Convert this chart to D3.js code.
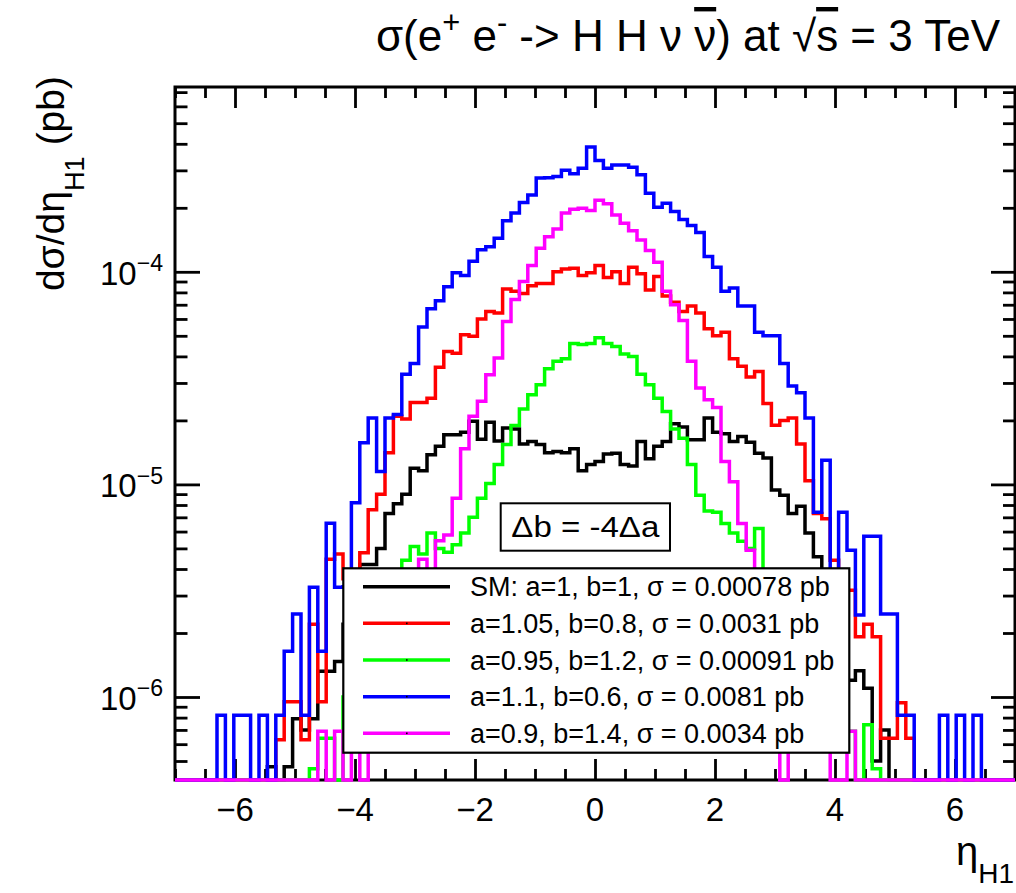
<!DOCTYPE html>
<html>
<head>
<meta charset="utf-8">
<script src="https://cdn.jsdelivr.net/npm/d3@7"></script>
<style>
  body { margin: 0; background: #fff; }
  svg { display: block; font-family: "Liberation Sans", Arial, Helvetica, sans-serif; }
  text { white-space: pre; }
</style>
</head>
<body>
<svg id="chart" width="1016" height="893"></svg>
<script>
// histogram binning: 100 bins over eta in [-7, 7]
const nBins = 100;
const etaRange = [-7, 7];

// bin contents (pb per unit eta); 0 = empty bin
const hSM = [
  0, 0, 0, 0, 0, 0, 0, 0, 0, 0,
  0, 4.7e-7, 0, 4.7e-7, 7.9e-7, 7.0e-7, 7.9e-7, 1.32e-6, 1.32e-6, 1.47e-6,
  2.2e-6, 3.0e-6, 4.2e-6, 4.2e-6, 5.0e-6, 7.3e-6, 8.1e-6, 9.0e-6, 1.19e-5, 1.16e-5,
  1.38e-5, 1.51e-5, 1.71e-5, 1.71e-5, 1.76e-5, 1.98e-5, 1.63e-5, 1.96e-5, 1.6e-5, 1.84e-5,
  1.82e-5, 1.55e-5, 1.59e-5, 1.54e-5, 1.41e-5, 1.43e-5, 1.41e-5, 1.47e-5, 1.16e-5, 1.24e-5,
  1.28e-5, 1.39e-5, 1.4e-5, 1.24e-5, 1.22e-5, 1.59e-5, 1.32e-5, 1.51e-5, 1.59e-5, 1.93e-5,
  1.86e-5, 1.62e-5, 1.62e-5, 2.05e-5, 1.76e-5, 1.73e-5, 1.59e-5, 1.68e-5, 1.58e-5, 1.4e-5,
  1.33e-5, 9.4e-6, 8.9e-6, 7.3e-6, 7.9e-6, 5.9e-6, 4.57e-6, 3.4e-6, 2.6e-6, 2.0e-6,
  1.2e-6, 1.33e-6, 1.1e-6, 5.0e-7, 7.0e-7, 0, 0, 0, 0, 0,
  0, 0, 0, 0, 0, 0, 0, 0, 0, 0
];
const hA105 = [
  0, 0, 0, 0, 0, 0, 0, 0, 0, 0,
  0, 0, 6.3e-7, 9.5e-7, 9.5e-7, 6.3e-7, 2.2e-6, 9.5e-7, 4.44e-6, 4.7e-6,
  3.6e-6, 3.9e-6, 4.77e-6, 7.6e-6, 9.0e-6, 1.41e-5, 2.09e-5, 2.03e-5, 2.43e-5, 2.43e-5,
  2.54e-5, 3.56e-5, 4.22e-5, 4.14e-5, 5.06e-5, 4.97e-5, 6.0e-5, 6.5e-5, 6.4e-5, 8.3e-5,
  8.1e-5, 7.9e-5, 8.6e-5, 8.8e-5, 8.8e-5, 1.0e-4, 1.03e-4, 1.04e-4, 9.6e-5, 9.9e-5,
  1.07e-4, 9.4e-5, 1.0e-4, 8.8e-5, 1.05e-4, 9.8e-5, 8.2e-5, 9.5e-5, 7.7e-5, 7.2e-5,
  6.5e-5, 6.9e-5, 6.4e-5, 5.4e-5, 5.0e-5, 5.2e-5, 3.9e-5, 3.6e-5, 3.2e-5, 3.4e-5,
  2.4e-5, 1.9e-5, 2.0e-5, 2.05e-5, 1.55e-5, 1.04e-5, 7.3e-6, 6.9e-6, 4.4e-6, 3.5e-6,
  3.18e-6, 1.92e-6, 2.2e-6, 1.92e-6, 6.4e-7, 6.4e-7, 9.4e-7, 6.4e-7, 0, 0,
  0, 0, 0, 0, 0, 0, 0, 0, 0, 0
];
const hA095 = [
  0, 0, 0, 0, 0, 0, 0, 0, 0, 0,
  0, 0, 0, 0, 0, 0, 4.6e-7, 6.4e-7, 6.4e-7, 0,
  1.0e-6, 1.3e-6, 1.7e-6, 2.2e-6, 2.7e-6, 3.1e-6, 3.6e-6, 4.4e-6, 5.1e-6, 4.7e-6,
  5.9e-6, 5.0e-6, 4.8e-6, 5.2e-6, 5.9e-6, 7.0e-6, 8.6e-6, 1.01e-5, 1.24e-5, 1.54e-5,
  1.89e-5, 2.26e-5, 2.64e-5, 2.94e-5, 3.5e-5, 3.8e-5, 3.9e-5, 4.6e-5, 4.55e-5, 4.6e-5,
  4.9e-5, 4.6e-5, 4.45e-5, 4.1e-5, 4.0e-5, 3.3e-5, 2.94e-5, 2.54e-5, 2.2e-5, 1.82e-5,
  1.65e-5, 1.24e-5, 8.9e-6, 7.5e-6, 7.4e-6, 6.55e-6, 5.9e-6, 5.4e-6, 5.0e-6, 6.2e-6,
  3.8e-6, 3.2e-6, 2.7e-6, 2.3e-6, 1.9e-6, 1.5e-6, 1.2e-6, 1.0e-6, 9.0e-7, 8.4e-7,
  6.9e-7, 0, 7.4e-7, 4.6e-7, 0, 0, 0, 0, 0, 0,
  0, 0, 0, 0, 0, 0, 0, 0, 0, 0
];
const hA110 = [
  0, 0, 0, 0, 0, 8.2e-7, 0, 8.2e-7, 8.2e-7, 0,
  8.2e-7, 0, 8.2e-7, 1.64e-6, 2.46e-6, 8.2e-7, 3.28e-6, 1.64e-6, 6.56e-6, 3.28e-6,
  3.3e-6, 8.2e-6, 1.57e-5, 2.05e-5, 1.15e-5, 2.05e-5, 2.13e-5, 3.3e-5, 3.7e-5, 5.5e-5,
  6.7e-5, 7.3e-5, 8.5e-5, 9.9e-5, 9.6e-5, 1.12e-4, 1.27e-4, 1.31e-4, 1.44e-4, 1.74e-4,
  1.89e-4, 2.12e-4, 2.30e-4, 2.76e-4, 2.77e-4, 2.81e-4, 3.0e-4, 2.89e-4, 3.07e-4, 3.86e-4,
  3.34e-4, 3.07e-4, 3.18e-4, 3.18e-4, 3.10e-4, 2.86e-4, 2.34e-4, 2.01e-4, 2.10e-4, 1.92e-4,
  1.76e-4, 1.65e-4, 1.53e-4, 1.18e-4, 1.05e-4, 8.1e-5, 8.4e-5, 6.9e-5, 6.9e-5, 5.2e-5,
  5.0e-5, 5.0e-5, 3.7e-5, 2.9e-5, 2.7e-5, 2.05e-5, 7.4e-6, 1.3e-5, 3.3e-6, 7.4e-6,
  4.9e-6, 2.43e-6, 5.7e-6, 5.7e-6, 2.46e-6, 2.46e-6, 8.2e-7, 8.2e-7, 0, 0,
  0, 8.2e-7, 0, 8.2e-7, 0, 8.2e-7, 0, 0, 0, 0
];
const hA090 = [
  0, 0, 0, 0, 0, 0, 0, 0, 0, 0,
  0, 0, 0, 0, 0, 0, 0, 6.9e-7, 0, 6.9e-7,
  0, 9e-7, 0, 1.2e-6, 1.4e-6, 1.9e-6, 2.3e-6, 2.8e-6, 3.4e-6, 4.44e-6,
  3.6e-6, 5.43e-6, 5.78e-6, 8.6e-6, 1.47e-5, 2.09e-5, 2.46e-5, 3.28e-5, 3.93e-5, 5.84e-5,
  7.4e-5, 9.0e-5, 1.07e-4, 1.29e-4, 1.46e-4, 1.59e-4, 1.89e-4, 1.97e-4, 1.99e-4, 1.94e-4,
  2.17e-4, 2.09e-4, 1.85e-4, 1.69e-4, 1.56e-4, 1.41e-4, 1.26e-4, 1.11e-4, 8.1e-5, 7.0e-5,
  5.9e-5, 3.8e-5, 2.84e-5, 2.5e-5, 2.3e-5, 1.28e-5, 1.03e-5, 6.55e-6, 4.9e-6, 3.5e-6,
  2.5e-6, 1.5e-6, 0, 1.2e-6, 1.0e-6, 9e-7, 8e-7, 7e-7, 0, 0,
  6.9e-7, 0, 0, 0, 0, 0, 0, 0, 0, 0,
  0, 0, 0, 0, 0, 0, 0, 0, 0, 0
];

// legend entries, in drawing order
const seriesNames = [
  "SM: a=1, b=1, σ = 0.00078 pb",
  "a=1.05, b=0.8, σ = 0.0031 pb",
  "a=0.95, b=1.2, σ = 0.00091 pb",
  "a=1.1, b=0.6, σ = 0.0081 pb",
  "a=0.9, b=1.4, σ = 0.0034 pb"
];
const seriesColors = ["#000000", "#ff0000", "#00ff00", "#0000ff", "#ff00ff"];
const seriesData = [hSM, hA105, hA095, hA110, hA090];

// axis ticks
const xTickValues = [-6, -4, -2, 0, 2, 4, 6];
const yDecades = [1e-6, 1e-5, 1e-4];
const yDecadeExp = ["−6", "−5", "−4"];
const yRange = [4.07e-7, 7.4e-4];

const svg = d3.select("#chart");
const frame = { left: 175, right: 1015, top: 87, bottom: 780 };

const x = d3.scaleLinear().domain(etaRange).range([frame.left, frame.right]);
const y = d3.scaleLog().domain(yRange).range([frame.bottom, frame.top]);

const binWidth = (etaRange[1] - etaRange[0]) / nBins;
const edges = d3.range(nBins + 1).map((i) => etaRange[0] + i * binWidth);

// rich text helper: parts with optional sup / sub / bar
function richText(sel, parts, size, subShift = 0.5) {
  let shift = 0;
  parts.forEach((p) => {
    const target = p.sup ? -0.42 * size : p.sub ? subShift * size : 0;
    const ts = sel.append("tspan").attr("dy", target - shift).text(p.t);
    if (p.sup || p.sub) ts.attr("font-size", size * 0.7);
    if (p.bar) ts.style("text-decoration", "overline");
    shift = target;
  });
}

// ---- axes (ticks inside the frame, on all four sides) ----
const xMinor = x.ticks(28).filter((d) => xTickValues.indexOf(d) < 0);
const yMinor = y.ticks().filter((d) => yDecades.indexOf(d) < 0);

const tickG = svg.append("g");

tickG.append("g")
  .attr("transform", `translate(0,${frame.bottom})`)
  .call(d3.axisBottom(x).tickValues(xTickValues).tickSize(-21).tickFormat(""));
tickG.append("g")
  .attr("transform", `translate(0,${frame.bottom})`)
  .call(d3.axisBottom(x).tickValues(xMinor).tickSize(-11).tickFormat(""));
tickG.append("g")
  .attr("transform", `translate(0,${frame.top})`)
  .call(d3.axisTop(x).tickValues(xTickValues).tickSize(-21).tickFormat(""));
tickG.append("g")
  .attr("transform", `translate(0,${frame.top})`)
  .call(d3.axisTop(x).tickValues(xMinor).tickSize(-11).tickFormat(""));
tickG.append("g")
  .attr("transform", `translate(${frame.left},0)`)
  .call(d3.axisLeft(y).tickValues(yDecades).tickSize(-25).tickFormat(""));
tickG.append("g")
  .attr("transform", `translate(${frame.left},0)`)
  .call(d3.axisLeft(y).tickValues(yMinor).tickSize(-12.5).tickFormat(""));
tickG.append("g")
  .attr("transform", `translate(${frame.right},0)`)
  .call(d3.axisRight(y).tickValues(yDecades).tickSize(-24).tickFormat(""));
tickG.append("g")
  .attr("transform", `translate(${frame.right},0)`)
  .call(d3.axisRight(y).tickValues(yMinor).tickSize(-12).tickFormat(""));
tickG.selectAll(".domain").remove();
tickG.selectAll(".tick line").attr("stroke", "#000").attr("stroke-width", 2.8);

// frame
svg.append("rect")
  .attr("x", frame.left).attr("y", frame.top)
  .attr("width", frame.right - frame.left).attr("height", frame.bottom - frame.top)
  .attr("fill", "none").attr("stroke", "#000").attr("stroke-width", 3);

// tick labels
svg.append("g").selectAll("text")
  .data(xTickValues)
  .join("text")
  .attr("x", (d) => x(d))
  .attr("y", 821)
  .attr("text-anchor", "middle")
  .attr("font-size", 33)
  .text((d) => (d < 0 ? "−" + Math.abs(d) : d));

svg.append("g").selectAll("text")
  .data(yDecades)
  .join("text")
  .attr("x", 163)
  .attr("y", (d) => y(d) + 13)
  .attr("text-anchor", "end")
  .attr("font-size", 33)
  .each(function (d, i) {
    richText(d3.select(this), [{ t: "10" }, { t: yDecadeExp[i], sup: true }], 33);
  });

// ---- histograms ----
svg.append("clipPath").attr("id", "plotclip")
  .append("rect")
  .attr("x", frame.left - 2).attr("y", frame.top - 2)
  .attr("width", frame.right - frame.left + 4).attr("height", frame.bottom - frame.top + 4);

const step = d3.line()
  .x((d) => x(d[0]))
  .y((d) => y(Math.max(d[1], yRange[0])))
  .curve(d3.curveStepAfter);

function histPoints(vals) {
  const pts = vals.map((v, i) => [edges[i], v]);
  pts.push([edges[nBins], vals[nBins - 1]]);
  return pts;
}

svg.append("g")
  .attr("clip-path", "url(#plotclip)")
  .selectAll("path")
  .data(seriesData)
  .join("path")
  .attr("d", (d) => step(histPoints(d)))
  .attr("fill", "none")
  .attr("stroke", (d, i) => seriesColors[i])
  .attr("stroke-width", 3.5)
  .attr("stroke-linejoin", "miter");

// ---- annotation box ----
const annot = svg.append("g");
annot.append("rect")
  .attr("x", 500.7).attr("y", 503.3).attr("width", 169.3).attr("height", 47.4)
  .attr("fill", "#fff").attr("stroke", "#000").attr("stroke-width", 2);
annot.append("text")
  .attr("x", 585.3).attr("y", 537)
  .attr("text-anchor", "middle")
  .attr("font-size", 30)
  .attr("textLength", 148)
  .attr("lengthAdjust", "spacingAndGlyphs")
  .text("Δb = -4Δa");

// ---- legend ----
const legend = svg.append("g");
legend.append("rect")
  .attr("x", 343.3).attr("y", 568.3).attr("width", 506).attr("height", 184.4)
  .attr("fill", "#fff").attr("stroke", "#000").attr("stroke-width", 2.2);

const rows = legend.selectAll("g.row")
  .data(seriesNames)
  .join("g")
  .attr("class", "row")
  .attr("transform", (d, i) => `translate(0,${586.7 + i * 36.65})`);

rows.append("line")
  .attr("x1", 363).attr("x2", 450)
  .attr("stroke", (d, i) => seriesColors[i])
  .attr("stroke-width", 3.5);
rows.append("rect")
  .attr("x", 406).attr("y", -0.8).attr("width", 1.6).attr("height", 1.6)
  .attr("fill", "#000");
rows.append("text")
  .attr("x", 470).attr("y", 9.5)
  .attr("font-size", 27)
  .text((d) => d);

// ---- titles ----
const title = svg.append("text")
  .attr("x", 1000).attr("y", 51)
  .attr("text-anchor", "end")
  .attr("font-size", 44);
richText(title, [
  { t: "σ(e" }, { t: "+", sup: true }, { t: " e" }, { t: "-", sup: true },
  { t: " -> H H ν " }, { t: "ν", bar: true }, { t: ") at " },
  { t: "√" }, { t: "s", bar: true }, { t: " = 3 TeV" }
], 44);

const xTitle = svg.append("text")
  .attr("x", 1014).attr("y", 865)
  .attr("text-anchor", "end")
  .attr("font-size", 40);
richText(xTitle, [{ t: "η" }, { t: "H1", sub: true }], 40, 0.45);

const yTitle = svg.append("text")
  .attr("transform", "translate(64,76) rotate(-90)")
  .attr("text-anchor", "end")
  .attr("font-size", 39);
richText(yTitle, [{ t: "dσ/dη" }, { t: "H1", sub: true }, { t: " (pb)" }], 39);
</script>
</body>
</html>
